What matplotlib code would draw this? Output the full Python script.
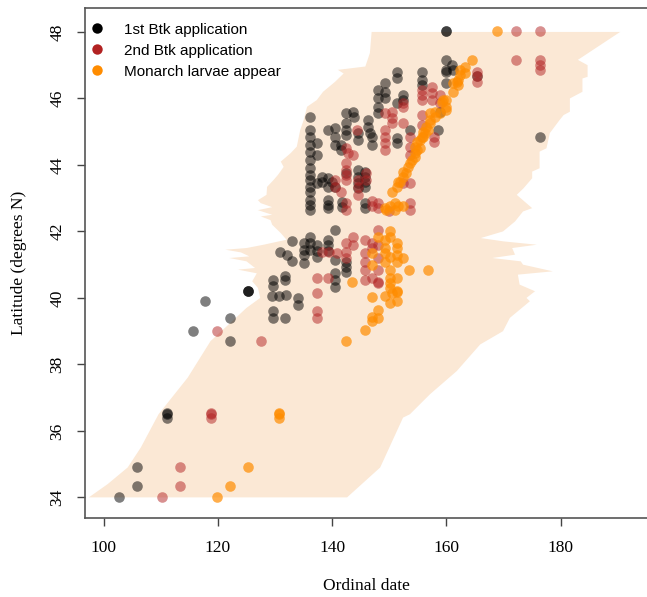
import matplotlib
matplotlib.use("Agg")
import matplotlib.pyplot as plt
from matplotlib.lines import Line2D
import numpy as np

# ---------------- data ----------------
# range polygon: left edge (bottom -> top), right edge (top -> bottom)
range_left_lat = [34.0, 34.4, 34.9, 35.5, 36.5, 37.6, 38.7, 39.3, 39.7, 40.0, 40.3, 40.5,
                  40.74, 40.85, 40.9, 41.1, 41.2, 41.25, 41.37, 41.45, 41.5, 41.6, 41.75,
                  41.95, 42.2, 42.34, 42.45, 42.5, 42.64, 42.73, 42.85, 42.94, 43.1, 43.34,
                  43.54, 43.7, 43.94, 44.1, 44.35, 44.55, 45.05, 45.35, 45.75, 45.95, 46.2,
                  46.5, 46.75, 46.86, 46.96, 47.37, 48.0]
range_left_day = [97.4, 100.7, 104.2, 106.5, 109.6, 114.7, 118.7, 122.5, 125.0, 127.4, 127.0, 126.0,
                  126.8, 123.5, 126.5, 125.0, 122.0, 125.5, 124.0, 121.3, 125.0, 128.0, 132.0,
                  131.0, 129.5, 129.2, 127.5, 129.5, 127.0, 129.5, 127.5, 127.0, 128.5, 128.6,
                  129.7, 130.5, 131.5, 131.0, 132.7, 133.8, 134.4, 135.0, 135.6, 137.3, 138.4,
                  140.5, 142.0, 141.0, 145.8, 146.6, 146.9]
range_right_lat = [48.0, 47.16, 47.0, 46.65, 46.6, 46.2, 46.0, 45.75, 45.6, 45.5, 45.35, 44.96,
                   44.5, 44.4, 43.9, 43.8, 43.6, 43.3, 43.1, 42.7, 42.6, 42.3, 42.0, 41.8,
                   41.7, 41.6, 41.5, 41.3, 41.2, 41.1, 41.0, 40.8, 40.7, 40.4, 40.2, 40.0,
                   39.9, 39.4, 39.0, 38.6, 37.8, 37.1, 36.5, 36.4, 34.9, 34.0]
range_right_day = [190.4, 183.0, 184.7, 184.7, 183.8, 183.8, 181.6, 181.6, 181.6, 180.5, 179.8, 178.1,
                   177.5, 176.3, 176.3, 175.0, 175.0, 173.5, 172.3, 175.0, 173.4, 172.0, 169.9, 166.0,
                   170.0, 175.8, 171.5, 172.0, 168.0, 173.0, 173.4, 178.6, 172.5, 172.8, 175.5, 174.0,
                   174.6, 171.1, 169.9, 165.9, 161.8, 157.1, 153.6, 152.4, 148.4, 142.6]

btk1_day = [102.6, 105.8, 105.8, 111.1, 111.1, 111.1,
            115.6, 117.7, 122.1, 122.1, 125.3, 125.3, 125.3,
            129.7, 129.7, 131.8, 134.1, 134.1,
            129.4, 130.7, 131.9,
            129.7, 129.7, 131.7, 131.7,
            130.9, 132.0, 132.9, 132.9,
            135.0, 135.0, 135.0, 135.0,
            136.1, 136.1, 136.1,
            137.3, 137.3, 137.3,
            139.3, 139.3, 139.3,
            140.5,
            140.5, 140.5, 140.5, 140.5,
            142.5, 142.5, 142.5,
            136.1, 136.1, 136.1,
            139.3, 139.3, 139.3,
            141.7, 141.7,
            145.7, 145.7,
            136.1, 136.1, 136.1, 136.1, 136.1, 136.1, 136.1, 136.1, 136.1, 136.1,
            136.1,
            137.3, 137.3,
            138.3, 138.3, 139.3, 139.9, 139.3, 137.3,
            139.3, 140.5, 140.5, 140.5,
            142.5, 142.5, 142.5, 142.5,
            142.5,
            140.5,
            143.7, 143.8,
            141.5, 141.5,
            144.6, 144.6,
            144.6, 144.6, 144.6, 144.6,
            145.7, 145.7, 145.7, 145.7,
            146.9, 146.9,
            146.3, 146.3, 146.6,
            148.0, 148.0, 148.0, 148.0,
            149.2, 149.2, 149.2,
            151.3, 151.3,
            151.3,
            151.3, 151.3,
            152.4, 152.4,
            153.6,
            155.7, 155.7, 155.7,
            158.9, 158.6,
            160.0, 160.0,
            160.0, 160.0, 160.0, 160.0,
            160.9, 161.1,
            165.4,
            176.4]
btk1_lat = [34.0, 34.35, 34.9, 36.4, 36.5, 36.55,
            39.0, 39.9, 39.4, 38.7, 40.2, 40.2, 40.2,
            39.6, 39.4, 39.4, 40.0, 39.8,
            40.05, 40.05, 40.1,
            40.55, 40.35, 40.65, 40.55,
            41.39, 41.29, 41.12, 41.72,
            41.65, 41.45, 41.3, 41.05,
            41.84, 41.65, 41.44,
            41.6, 41.4, 41.22,
            41.74, 41.6, 41.4,
            42.05,
            41.14, 40.74, 40.54, 40.34,
            41.09, 40.94, 40.79,
            42.95, 42.8, 42.65,
            42.95, 42.8, 42.7,
            42.88, 42.73,
            42.85, 42.7,
            45.05, 44.85, 44.6, 44.4, 44.15, 43.9, 43.7, 43.55, 43.35, 43.2,
            45.43,
            44.65, 44.3,
            43.64, 43.5, 43.6, 43.5, 43.35, 43.45,
            45.05, 45.1, 44.85, 44.6,
            45.55, 45.25, 45.05, 44.9,
            43.75,
            43.35,
            45.6, 45.45,
            44.6, 44.45,
            44.95, 44.75,
            43.85, 43.65, 43.45, 43.3,
            43.8, 43.65, 43.5, 43.35,
            44.85, 44.6,
            45.35, 45.15, 44.95,
            46.25, 46.0, 45.75, 45.55,
            46.46, 46.2, 46.01,
            46.8, 46.6,
            45.86,
            44.8, 44.65,
            46.11, 45.95,
            45.05,
            46.8, 46.56, 46.4,
            45.6, 45.05,
            48.03, 48.03,
            47.16, 46.86, 46.78, 46.46,
            47.01, 46.86,
            46.66,
            44.85]

btk2_day = [110.2, 113.4, 113.4, 118.8, 118.8, 118.8,
            119.9, 127.5, 137.3, 137.3,
            137.3, 137.3, 139.3,
            138.3, 139.5, 140.8,
            142.5, 142.5, 142.5,
            143.7, 143.7,
            145.7, 145.7, 145.7, 145.7,
            146.9, 146.9,
            148.1, 148.1, 148.1, 148.1, 148.1,
            145.7, 148.0, 146.9,
            142.5, 142.5, 146.9, 146.9, 148.0, 148.0, 153.6, 153.6, 149.9,
            152.4, 153.6,
            149.2, 150.4, 150.4, 150.4,
            149.2, 149.2, 149.2, 149.2,
            152.4, 152.4, 152.4,
            155.7, 155.7, 155.7, 155.7, 155.7,
            157.5, 157.5, 157.5, 158.9, 158.9,
            157.8, 157.8,
            153.6, 153.6, 153.6,
            144.3,
            142.5, 142.8, 143.7,
            142.5, 142.5, 142.5, 142.5,
            141.5, 140.5, 140.5,
            144.6, 144.6, 144.6,
            145.9, 145.9,
            165.4, 165.4, 165.4,
            172.1, 176.4, 172.1, 176.4, 176.4, 176.4]
btk2_lat = [34.0, 34.35, 34.9, 36.4, 36.5, 36.55,
            39.0, 38.7, 39.6, 39.4,
            40.6, 40.15, 40.6,
            41.39, 41.37, 41.34,
            41.65, 41.39, 41.19,
            41.84, 41.59,
            41.74, 41.34, 41.09, 40.84,
            41.65, 41.49,
            42.05, 41.59, 41.19, 40.84, 40.49,
            40.54, 40.44, 40.6,
            42.85, 42.65, 42.9, 42.75, 42.85, 42.7, 42.85, 42.65, 42.6,
            43.45, 43.45,
            45.55, 45.6, 45.4, 45.25,
            45.05, 44.85, 44.65, 44.45,
            45.86, 45.75, 45.25,
            46.26, 46.11, 45.95, 45.5, 45.2,
            46.35, 46.16, 45.95, 46.11, 45.86,
            44.85, 44.7,
            44.85, 44.55, 44.3,
            45.05,
            44.5, 44.35, 44.3,
            44.05, 43.85, 43.7, 43.55,
            43.2, 43.55, 43.35,
            43.55, 43.35, 43.1,
            43.75, 43.55,
            46.78, 46.66, 46.48,
            48.03, 48.03, 47.16, 47.16, 47.01, 46.86]

larvae_day = [119.9, 122.1, 125.3, 130.7, 130.7, 130.7,
              143.5, 146.9, 149.2, 150.4, 151.3, 150.1, 151.3, 148.1, 147.0, 147.0, 148.1, 145.8, 142.5,
              148.1, 150.1, 150.1, 149.2, 149.2, 151.3, 151.3, 146.9, 146.9, 149.2, 149.2, 150.1, 150.1,
              152.4, 151.3, 151.3, 153.5, 156.8, 150.1, 150.1, 150.1, 151.3, 151.3,
              149.2, 150.1, 151.0, 151.6, 152.4, 151.0, 149.5,
              150.4, 151.3, 151.6, 151.9, 152.4, 152.4, 153.0, 153.3, 153.6, 153.9, 154.5, 154.5,
              154.5, 154.8, 154.8, 155.4, 155.4, 155.7, 155.9, 155.9, 156.2, 156.5, 156.8, 157.1,
              157.1, 157.1, 158.0, 158.0, 158.9, 159.2, 159.4, 160.0, 160.0, 160.0, 161.2, 161.2,
              161.8, 162.1, 162.1, 162.4, 162.4, 163.2, 163.2, 164.4, 168.8]
larvae_lat = [34.0, 34.35, 34.9, 36.4, 36.5, 36.55,
              40.49, 40.04, 40.06, 40.14, 40.2, 39.84, 39.9, 39.64, 39.42, 39.32, 39.39, 39.02, 38.69,
              41.84, 42.02, 41.82, 41.74, 41.49, 41.65, 41.49, 41.34, 40.99, 41.34, 41.09, 41.24, 40.84,
              41.19, 41.29, 41.09, 40.84, 40.84, 40.59, 40.44, 40.29, 40.59, 40.19,
              42.7, 42.75, 42.85, 42.75, 42.77, 42.65, 42.63,
              43.2, 43.35, 43.5, 43.5, 43.65, 43.8, 43.75, 43.95, 44.05, 44.15, 44.25, 44.35,
              44.55, 44.45, 44.7, 44.5, 44.75, 44.85, 45.0, 44.85, 44.95, 45.15, 45.05, 45.25,
              45.35, 45.55, 45.45, 45.6, 45.55, 45.9, 45.95, 45.65, 45.75, 45.95, 46.2, 46.45,
              46.5, 46.4, 46.55, 46.7, 46.85, 46.75, 46.95, 47.16, 48.03]

series_labels = ["1st Btk application", "2nd Btk application", "Monarch larvae appear"]
series_colors = ["#000000", "#B22222", "#FF8C00"]
x_ticks = [100, 120, 140, 160, 180]
y_ticks = [34, 36, 38, 40, 42, 44, 46, 48]

# ---------------- figure ----------------
W, H = 647, 597
fig = plt.figure(figsize=(W / 100, H / 100), dpi=100)
ax = fig.add_axes([85 / W, 1 - 518 / H, 1 - 85 / W, (518 - 8) / H])

poly_x = range_left_day + range_right_day
poly_y = range_left_lat + range_right_lat
ax.fill(poly_x, poly_y, color="#FBE8D5", lw=0, zorder=1)

ax.scatter(btk1_day, btk1_lat, s=58, color=series_colors[0], alpha=0.5, lw=0, zorder=3)
ax.scatter(btk2_day, btk2_lat, s=58, color=series_colors[1], alpha=0.5, lw=0, zorder=4)
ax.scatter(larvae_day, larvae_lat, s=58, color=series_colors[2], alpha=0.7, lw=0, zorder=5)

ax.set_xlim(96.73, 195.1)
ax.set_ylim(33.38, 48.72)

serif = ["Liberation Serif", "DejaVu Serif"]
ax.set_xticks(x_ticks)
ax.set_yticks(y_ticks)
ax.set_xticklabels([str(t) for t in x_ticks], fontfamily=serif, fontsize=12.5)
ax.set_yticklabels([str(t) for t in y_ticks], fontfamily=serif, fontsize=12.5,
                   rotation=90, va="center")
ax.tick_params(axis="both", direction="out", length=6, width=1, color="#444444", pad=10)
ax.tick_params(axis="y", pad=8)
for side in ["left", "bottom", "top"]:
    ax.spines[side].set_color("#555555")
    ax.spines[side].set_linewidth(1.2)
ax.spines["right"].set_visible(False)

ax.set_xlabel("Ordinal date", fontfamily=serif, fontsize=12.5, labelpad=16)
ax.set_ylabel("Latitude (degrees N)", fontfamily=serif, fontsize=12.5, labelpad=16)

handles = [Line2D([0], [0], marker="o", color="none", markerfacecolor=c, markeredgecolor="none",
                  markersize=7.5) for c in series_colors]
leg = ax.legend(handles, series_labels, loc="upper left", frameon=False,
                prop={"family": ["Liberation Sans", "DejaVu Sans"], "size": 11},
                handlelength=1.0, handletextpad=1.3, labelspacing=0.45,
                borderaxespad=0.0, bbox_to_anchor=(-0.004, 0.983))

fig.savefig("out.png", dpi=100)
